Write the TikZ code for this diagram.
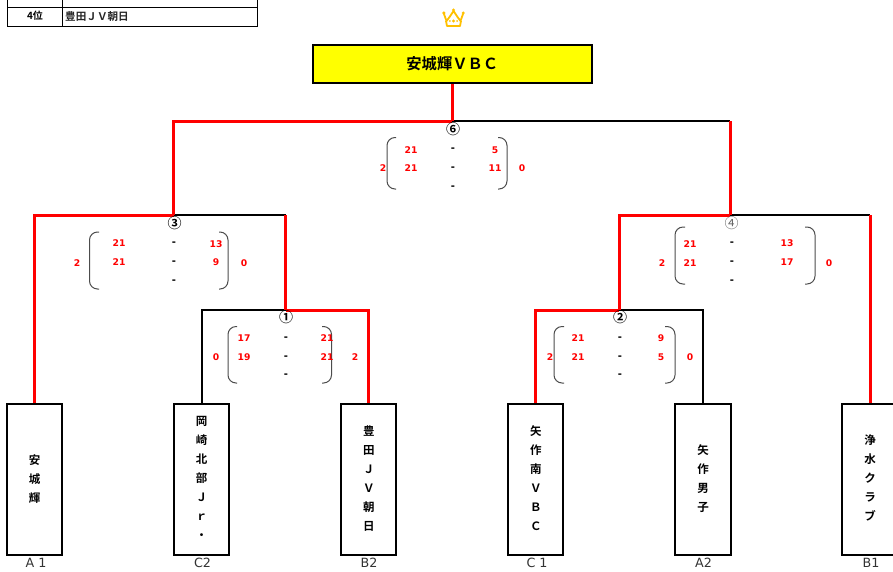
\documentclass[tikz,border=0pt]{standalone}
\usepackage{fontspec}
\setmainfont{DejaVu Sans}
\newfontfamily\cjk{Noto Sans CJK JP}[BoldFont={Noto Sans CJK JP Bold}]
\definecolor{pureyellow}{RGB}{255,255,0}
\definecolor{purered}{RGB}{255,0,0}
\definecolor{crowngold}{RGB}{255,192,0}
\tikzset{
  x=1pt,y=-1pt,
  teambox/.style={draw=black,line width=2pt,fill=white,minimum width=55.3pt,minimum height=151pt,inner sep=0pt,align=center,font=\cjk\bfseries\fontsize{11.5}{19}\selectfont},
  winbox/.style={draw=black,line width=2pt,fill=pureyellow,minimum width=279pt,minimum height=38pt,inner sep=0pt,font=\cjk\bfseries\fontsize{15.3}{18}\selectfont},
  seedlabel/.style={inner sep=0pt,text=black!80,font=\fontsize{12.7}{14}\selectfont},
  redline/.style={draw=purered,line width=3pt},
  blackline/.style={draw=black,line width=2pt},
  paren/.style={draw=black!70,line width=1pt,rounded corners=8pt},
  score/.style={inner sep=0pt,text=purered,font=\bfseries\fontsize{9.2}{10}\selectfont},
  dashmark/.style={inner sep=0pt,text=black,font=\bfseries\fontsize{10}{10}\selectfont},
  roundmark/.style={inner sep=0pt,font=\cjk\bfseries\fontsize{14}{14}\selectfont},
  tabletext/.style={inner sep=0pt,font=\cjk\bfseries\fontsize{10.6}{12}\selectfont,text=black!85},
  tablehead/.style={inner sep=0pt,font=\cjk\bfseries\fontsize{10}{12}\selectfont},
  tableline/.style={draw=black,line width=1pt},
  crown/.style={draw=crowngold,line width=1.8pt,line join=round}
}
\newcommand{\parens}[6]{% left inner x, left end, right inner, right end, top, bottom
  \draw[paren] (#2,#5) -- (#1,#5) -- (#1,#6) -- (#2,#6);
  \draw[paren] (#4,#5) -- (#3,#5) -- (#3,#6) -- (#4,#6);
}
\begin{document}
\begin{tikzpicture}
\useasboundingbox (0,0) rectangle (893,571);
\clip (0,0) rectangle (893,571);

% results table
\draw[tableline] (7,-10) rectangle (257,26);
\draw[tableline] (7,7.5) -- (257,7.5);
\draw[tableline] (62,-10) -- (62,26);
\node[tablehead] (place3) at (35,-4.5) {3位};
\node[tabletext,anchor=west] (name3) at (65,-4.5) {矢作南ＶＢＣ};
\node[tablehead] (place4) at (35,16) {4位};
\node[tabletext,anchor=west] (name4) at (65,16) {豊田ＪＶ朝日};

% crown
\draw[crown] (444,14) -- (446.5,21) -- (449.5,17) -- (453.5,11) -- (457.5,17) -- (460.5,21) -- (463,14);
\draw[crown] (446,21) -- (447,26) -- (460,26) -- (461,21);
\fill[crowngold] (443.8,13) circle (1.7) (453.5,10) circle (1.7) (463.2,13) circle (1.7)
  (449.8,21) circle (1) (453.5,21) circle (1.6) (457.2,21) circle (1);

% nodes
\node[winbox] (champ) at (452.3,64) {安城輝ＶＢＣ};
\node[teambox] (a1) at (34.5,479.5) {安\\城\\輝};
\node[teambox] (c2) at (201.5,479.5) {岡\\崎\\北\\部\\Ｊ\\ｒ\\・\\[-16pt]\mbox{}};
\node[teambox] (b2) at (368.8,479.5) {豊\\田\\Ｊ\\Ｖ\\朝\\日\\[-16pt]\mbox{}};
\node[teambox] (c1) at (535.8,479.5) {矢\\作\\南\\Ｖ\\Ｂ\\Ｃ\\[-16pt]\mbox{}};
\node[teambox] (a2) at (703,479.5) {矢\\作\\男\\子\\[-16pt]\mbox{}};
\node[teambox] (b1) at (870,479.5) {浄\\水\\ク\\ラ\\ブ\\[-16pt]\mbox{}};
\node[seedlabel] (la1) at (36,563) {A 1};
\node[seedlabel] (lc2) at (202.5,563) {C2};
\node[seedlabel] (lb2) at (369,563) {B2};
\node[seedlabel] (lc1) at (537,563) {C 1};
\node[seedlabel] (la2) at (703.5,563) {A2};
\node[seedlabel] (lb1) at (871,563) {B1};

% junctions
\coordinate (j6) at (452.3,121);
\coordinate (j3) at (173.5,215);
\coordinate (j4) at (730,215);
\coordinate (j1) at (285.5,310);
\coordinate (j2) at (619,310);

% black (losing) connectors
\draw[blackline] (j6) -- (j4 |- j6);
\draw[blackline] (j3) -- (j1 |- j3);
\draw[blackline] (j4) -- (b1.north |- j4);
\draw[blackline] (c2.north) -- (c2.north |- j1) -- (j1);
\draw[blackline] (j2) -- (a2.north |- j2) -- (a2.north);

% red (winning) connectors
\draw[redline] (champ.south) -- (j6);
\draw[redline] (j6) -- (j3 |- j6) -- (j3);
\draw[redline] (j6 -| j4) -- (j4);
\draw[redline] (j3) -- (a1.north |- j3) -- (a1.north);
\draw[redline] (j3 -| j1) -- (j1);
\draw[redline] (j1) -- (b2.north |- j1) -- (b2.north);
\draw[redline] (j4) -- (j2 |- j4) -- (j2);
\draw[redline] (j2) -- (c1.north |- j2) -- (c1.north);
\draw[redline] (j4 -| b1.north) -- (b1.north);

% round marks
\node[roundmark] (r6) at (453,129) {⑥};
\node[roundmark] (r3) at (174.5,223) {③};
\node[roundmark] (r1) at (286,317) {①};
\node[roundmark,text=black!60,font=\cjk\fontsize{14}{14}\selectfont] (r4) at (731.5,223) {④};
\node[roundmark] (r2) at (620,317) {②};

% brackets
\parens{387}{396}{507}{498}{137.5}{189}
\parens{89.5}{99}{228}{219}{232}{289}
\parens{228}{237}{331.5}{322}{326.5}{383}
\parens{675}{685}{815}{805}{227}{284}
\parens{554}{564}{675}{665}{326.5}{383}

% scores
\foreach \px/\py/\pt in {411/150/21,495/150/5,411/168/21,495/168/11,383/168/2,522/168/0,
  119/243/21,216/244/13,119/262/21,216/262/9,77/263/2,244/263/0,
  244/338/17,327/338/21,244/357/19,327/357/21,216/357/0,355/357/2,
  690/244/21,787/243/13,690/263/21,787/262/17,662/263/2,829/263/0,
  578/338/21,661/338/9,578/357/21,661/357/5,550/357/2,690/357/0}
  \node[score] at (\px,\py) {\pt};
\foreach \px/\py in {453/150,453/169,453/188,174/244,174/263,174/282,
  286/339,286/358,286/376,732/244,732/263,732/282,620/339,620/358,620/376}
  \node[dashmark] at (\px,\py) {-};
\end{tikzpicture}
\end{document}
